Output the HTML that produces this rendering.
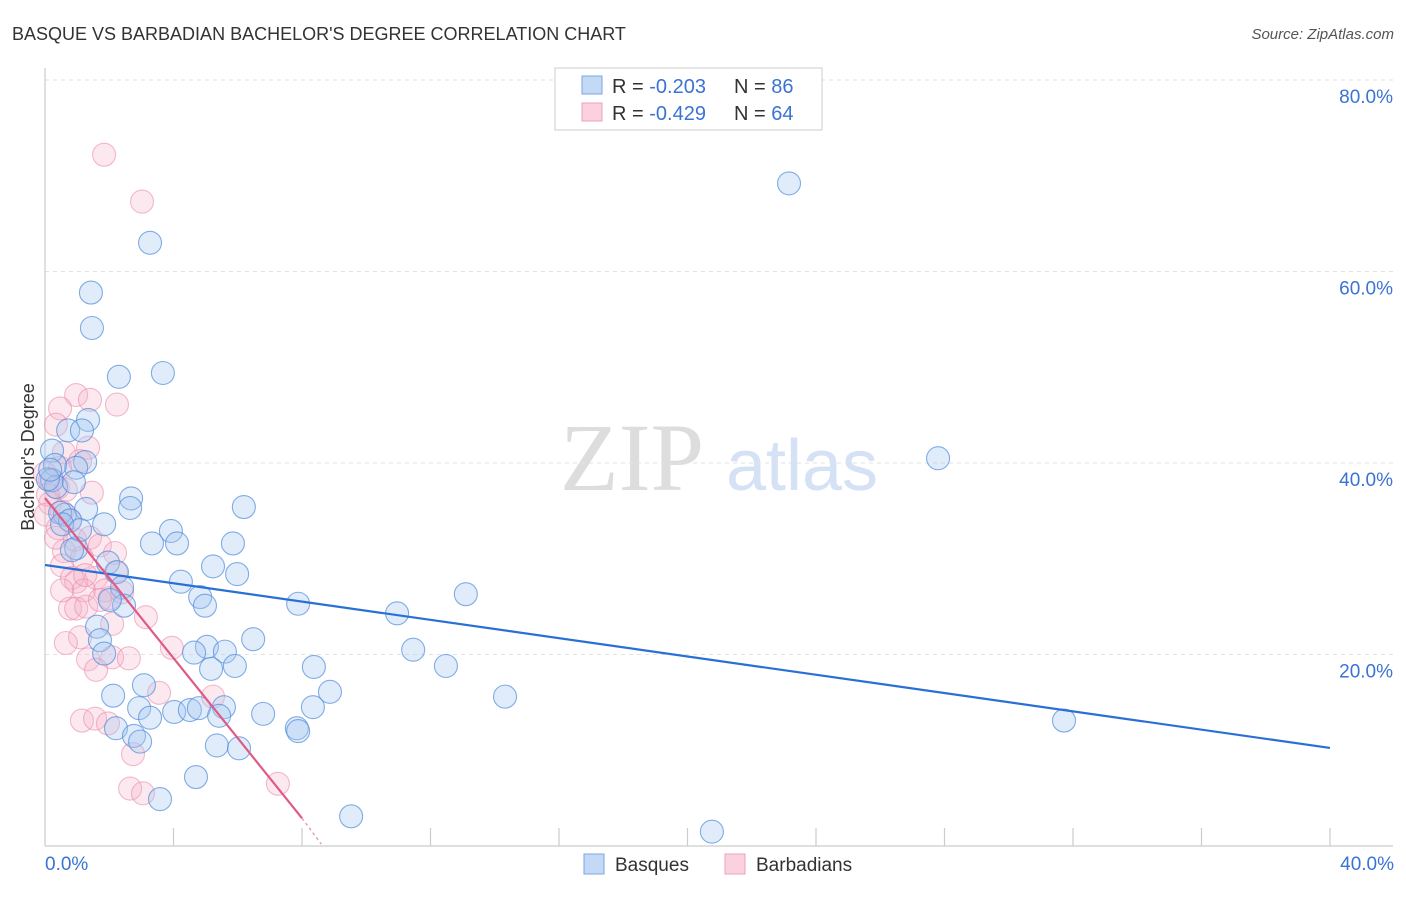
<!DOCTYPE html>
<html><head><meta charset="utf-8"><style>
body{margin:0;background:#fff;font-family:"Liberation Sans",sans-serif;}
</style></head><body>
<svg width="1406" height="892" xmlns="http://www.w3.org/2000/svg" font-family="Liberation Sans, sans-serif">
<text x="12" y="40" font-size="18" fill="#333">BASQUE VS BARBADIAN BACHELOR'S DEGREE CORRELATION CHART</text>
<text x="1394" y="39" font-size="15" fill="#555" font-style="italic" text-anchor="end">Source: ZipAtlas.com</text>
<g>
<text x="632" y="490" font-size="96" fill="#ddd" font-family="Liberation Serif, serif" text-anchor="middle">ZIP</text>
<text x="802" y="490" font-size="72" fill="#d5e1f5" text-anchor="middle">atlas</text>
</g>
<g id="grid"></g>
<g id="axes"></g>
<g id="pts"></g>
<g id="lines"></g>
<text transform="translate(34,457) rotate(-90)" font-size="18" fill="#333" text-anchor="middle">Bachelor's Degree</text>
<g>
<rect x="555" y="68" width="267" height="62" fill="#fff" stroke="#ccc"/>
<rect x="582" y="76" width="20" height="18" fill="#c3d9f6" stroke="#7aa6e0"/>
<rect x="582" y="103" width="20" height="18" fill="#fad2df" stroke="#eea3bb"/>
<text x="612" y="93" font-size="20" fill="#333">R = <tspan fill="#3b73d4">-0.203</tspan></text>
<text x="734" y="93" font-size="20" fill="#333">N = <tspan fill="#3b73d4">86</tspan></text>
<text x="612" y="120" font-size="20" fill="#333">R = <tspan fill="#3b73d4">-0.429</tspan></text>
<text x="734" y="120" font-size="20" fill="#333">N = <tspan fill="#3b73d4">64</tspan></text>
</g>
<g>
<rect x="584" y="854" width="20" height="20" fill="#c3d9f6" stroke="#7aa6e0"/>
<text x="615" y="871" font-size="19" fill="#333">Basques</text>
<rect x="725" y="854" width="20" height="20" fill="#fad2df" stroke="#eea3bb"/>
<text x="756" y="871" font-size="19" fill="#333">Barbadians</text>
</g>
<text x="45" y="870" font-size="19" fill="#3b73d4">0.0%</text>
<text x="1394" y="870" font-size="19" fill="#3b73d4" text-anchor="end">40.0%</text>
</svg>
<script>
const yTicks=[20,40,60,80];
const yTickLabels=["20.0%","40.0%","60.0%","80.0%"];
const xTicks=[4,8,12,16,20,24,28,32,36,40];
const basqueX=[23.16,3.27,1.43,1.46,2.30,3.67,27.8,1.34,0.72,1.15,0.22,1.25,0.97,0.31,0.22,0.34,0.90,0.62,1.28,1.84,2.68,2.65,6.19,3.92,3.33,4.11,5.85,0.97,5.23,5.98,1.96,2.24,2.40,4.23,4.83,4.98,2.46,7.88,10.96,13.1,1.62,5.04,1.71,1.84,4.64,5.60,6.48,5.91,5.17,12.48,8.37,11.46,3.08,2.12,8.87,14.32,2.93,3.27,4.02,4.51,4.79,5.57,5.42,6.79,8.34,7.84,7.88,2.21,2.77,2.96,5.35,6.04,4.70,3.58,9.53,20.76,31.72,0.47,0.78,0.09,0.16,0.53,1.09,2.02,0.84];
const basqueY=[69.2,63.0,57.8,54.1,49.0,49.4,40.5,44.5,43.4,43.4,41.3,40.1,39.5,39.8,38.2,37.5,38.0,34.6,35.2,33.6,36.3,35.3,35.4,32.9,31.6,31.6,31.6,31.1,29.2,28.4,29.6,28.6,27.0,27.6,26.0,25.1,25.1,25.3,24.3,26.3,22.9,20.8,21.5,20.1,20.2,20.3,21.6,18.8,18.5,18.8,18.7,20.5,16.8,15.7,16.1,15.6,14.4,13.4,14.0,14.2,14.4,14.5,13.6,13.8,14.5,12.3,12.0,12.3,11.5,10.9,10.5,10.2,7.2,4.9,3.1,1.5,13.1,34.8,34.0,38.3,39.3,33.6,33.0,25.7,30.9];
const barbX=[1.84,3.02,0.97,0.47,1.40,2.24,1.34,0.34,0.59,1.09,0.47,0,0.16,0.40,0.65,1.46,0.16,0.53,0.78,0.03,0.40,1.40,1.71,0.59,1.15,2.18,0.53,0.84,0.97,1.59,1.21,1.87,2.02,2.21,3.14,0.78,0.97,1.28,1.09,0.65,1.34,2.09,2.61,2.09,3.95,3.55,1.15,1.56,1.96,2.74,2.65,3.05,5.23,7.25,1.59,0.34,0.09,2.40,0.53,1.71,1.25,0.93];
const barbY=[72.2,67.3,47.1,45.7,46.6,46.1,41.6,44.0,41.1,40.2,39.5,38.9,38.2,37.4,37.2,36.9,35.8,34.9,34.0,34.6,33.2,32.2,31.4,30.8,30.1,30.6,29.3,28.0,27.6,28.0,26.7,26.7,25.9,28.6,23.9,24.8,24.8,25.0,21.8,21.2,19.5,19.7,19.6,23.2,20.7,16.0,13.1,13.3,12.8,9.6,6.0,5.5,15.6,6.5,18.4,32.2,36.7,26.5,26.7,25.7,28.3,32.0];
const blueLine=[0,29.35,40,10.24];
const pinkLine=[0,36.35,8.0,2.9];
const pinkDash=[8.0,2.9,8.6,0.2];
const NS="http://www.w3.org/2000/svg";
const X0=45,X1=1330,Y0=846,YT=80;
const sx=v=>X0+(X1-X0)*v/40;
const sy=v=>Y0-(Y0-YT)*v/80;
function mk(t,a,p){const e=document.createElementNS(NS,t);for(const k in a)e.setAttribute(k,a[k]);p.appendChild(e);return e;}
const grid=document.getElementById('grid');
yTicks.forEach((t,i)=>{
 const l=mk('line',{x1:X0,x2:1393,y1:sy(t),y2:sy(t),stroke:'#e2e2e2','stroke-dasharray':'4,4'},grid);
 
 
 const tx=mk('text',{x:1393,y:sy(t)+23,'font-size':19,fill:'#3b73d4','text-anchor':'end'},grid);
 tx.textContent=yTickLabels[i];
 
 
});
const ax=document.getElementById('axes');
const ya=mk('line',{x1:X0,x2:X0,y1:68,y2:Y0,stroke:'#ccc','stroke-width':1.2},ax);


const xa=mk('line',{x1:X0,x2:1393,y1:Y0,y2:Y0,stroke:'#ccc','stroke-width':1.2},ax);


xTicks.forEach(t=>{
 const l=mk('line',{x1:sx(t),x2:sx(t),y1:Y0,y2:Y0-18,stroke:'#ccc','stroke-width':1.2},ax);
 
 
});
const pts=document.getElementById('pts');
function dots(xs,ys,fill,stroke,name){
 xs.forEach((x,i)=>{
  const c=mk('circle',{cx:sx(x),cy:sy(ys[i]),r:11.5,fill:fill,stroke:stroke,'stroke-width':1.1},pts);
  
  
 });
}
dots(barbX,barbY,'rgba(246,175,200,0.28)','rgba(235,140,172,0.6)','barbadian-point');
dots(basqueX,basqueY,'rgba(165,200,242,0.35)','rgba(80,140,220,0.7)','basque-point');
const lg=document.getElementById('lines');
const bl=mk('line',{x1:sx(blueLine[0]),y1:sy(blueLine[1]),x2:sx(blueLine[2]),y2:sy(blueLine[3]),stroke:'#2a6fd6','stroke-width':2.2},lg);


const pl=mk('line',{x1:sx(pinkLine[0]),y1:sy(pinkLine[1]),x2:sx(pinkLine[2]),y2:sy(pinkLine[3]),stroke:'#e05a88','stroke-width':2.2},lg);


const pd=mk('line',{x1:sx(pinkDash[0]),y1:sy(pinkDash[1]),x2:sx(pinkDash[2]),y2:sy(pinkDash[3]),stroke:'#e8a0b8','stroke-width':1.5,'stroke-dasharray':'3,3'},lg);


</script>
</body></html>
